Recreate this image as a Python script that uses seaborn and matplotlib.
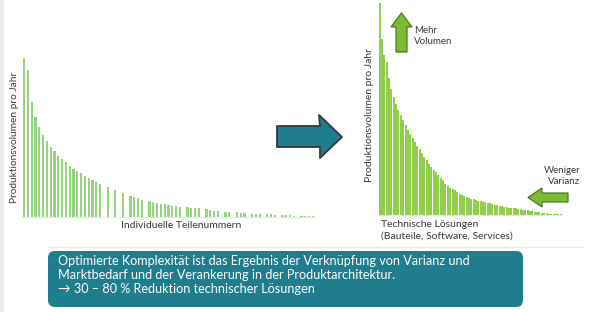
import matplotlib
matplotlib.use("Agg")
import matplotlib.pyplot as plt
from matplotlib.patches import FancyBboxPatch, Polygon
import seaborn as sns
import pandas as pd

# ---- data ----
left_heights = [159, 147, 115, 100, 90, 82, 76, 70, 66, 61, 58, 55, 51, 48, 46, 44,
                41, 39, 37, 35, 33, 0, 30, 0, 27, 0, 24, 0, 21, 20, 19, 17, 0, 16,
                15, 14, 13, 12.7, 12, 11, 10.7, 10.3, 0, 9.7, 9.3, 9, 8.7, 0, 7.7,
                6.7, 6.3, 6, 0, 5.3, 5, 0, 4.7, 4.3, 4, 0, 3.3, 3.2, 3, 0, 2.8, 2.6,
                2.4, 0, 2.1, 1.9, 1.7, 1.5, 0, 1.3, 1.2, 1.1, 1.0]
right_heights = [212, 176, 160, 153, 137, 126, 118, 111, 105, 100, 95, 90, 85, 81, 77,
                 73, 69, 66, 62, 58.5, 55, 51.5, 48.5, 45.5, 43, 40, 37.5, 35, 31.5,
                 29.5, 27.5, 26, 25, 23, 21.5, 20.5, 19.5, 18.3, 17.5, 16.5, 16, 15,
                 14.5, 14, 13.2, 12.7, 12.2, 11.7, 11, 10.5, 9.8, 9.2, 8.8, 8.3, 7.9,
                 7.5, 7.2, 6.9, 6.6, 6.3, 5.8, 5.4, 5, 4.6, 4.2, 3.8, 3.4, 3, 2.7, 2.4,
                 2.1, 1.8, 1.5, 1.3, 1.1, 0.9, 0.8, 0.7]
y_label = "Produktionsvolumen pro Jahr"
left_xlabel = "Individuelle Teilenummern"
right_xlabel = "Technische Lösungen\n(Bauteile, Software, Services)"
box_text = ("Optimierte Komplexität ist das Ergebnis der Verknüpfung von Varianz und\n"
            "Marktbedarf und der Verankerung in der Produktarchitektur.\n"
            "\u2192 30 \u2013 80 % Reduktion technischer Lösungen")

W, H = 590, 312
sns.set_theme(style="white")
plt.rcParams['font.family'] = ['Lato', 'DejaVu Sans']

fig = plt.figure(figsize=(W / 100, H / 100), dpi=100)
fig.patch.set_facecolor("white")


def px_axes(x0, y0, x1, y1, **kw):
    return fig.add_axes([x0 / W, 1 - y1 / H, (x1 - x0) / W, (y1 - y0) / H], **kw)


# ---- left chart ----
axL = px_axes(22.2, 0, 314.8, 217)
dfL = pd.DataFrame({"i": range(len(left_heights)), "h": left_heights})
sns.barplot(data=dfL, x="i", y="h", ax=axL, color="#93D67F", width=0.55,
            saturation=1, linewidth=0)
axL.set_xlim(-0.5, len(left_heights) - 0.5)
axL.set_ylim(0, 217)
axL.set_xticks([]); axL.set_yticks([])
axL.set_xlabel(""); axL.set_ylabel("")
for s in ["top", "right", "left"]:
    axL.spines[s].set_visible(False)
axL.spines["bottom"].set_color("#e6e6e6")
axL.spines["bottom"].set_linewidth(0.8)
axL.patch.set_alpha(0)

# ---- right chart ----
axR = px_axes(378.5, 0, 561.8, 215)
dfR = pd.DataFrame({"i": range(len(right_heights)), "h": right_heights})
sns.barplot(data=dfR, x="i", y="h", ax=axR, color="#93CD4C", width=0.84,
            saturation=1, linewidth=0)
axR.set_xlim(-0.5, len(right_heights) - 0.5)
axR.set_ylim(0, 215)
axR.set_xticks([]); axR.set_yticks([])
axR.set_xlabel(""); axR.set_ylabel("")
for s in ["top", "right", "left"]:
    axR.spines[s].set_visible(False)
axR.spines["bottom"].set_color("#e6e6e6")
axR.spines["bottom"].set_linewidth(0.8)
axR.patch.set_alpha(0)

# ---- overlay axes in pixel coordinates ----
ov = fig.add_axes([0, 0, 1, 1])
ov.set_xlim(0, W); ov.set_ylim(H, 0)
ov.axis("off")
ov.patch.set_alpha(0)

# left edge grey strip
ov.add_patch(plt.Rectangle((0, 0), 4, H, color="#ececec", lw=0))

txt_col = "#3a3a3a"
ov.text(15, 137, y_label, rotation=90, ha="center", va="center", fontsize=7.3, color=txt_col)
ov.text(181, 226, left_xlabel, ha="center", va="center", fontsize=7.5, color=txt_col)
ov.text(369, 115, y_label, rotation=90, ha="center", va="center", fontsize=7.5, color=txt_col)
ov.text(381, 230, right_xlabel, ha="left", va="center", fontsize=7.5, color=txt_col,
        linespacing=1.35)

# teal arrow in the middle
teal_pts = [(277, 126), (320, 126), (319, 115), (342, 137), (320, 158), (320, 147), (277, 147)]
ov.add_patch(Polygon(teal_pts, closed=True, facecolor="#1F7C8C", edgecolor="#2f3b3d", lw=1.3,
                     joinstyle="round"))

# green up arrow "Mehr Volumen"
up_pts = [(396, 52), (396, 27), (391, 27), (401.5, 13), (412, 27), (407, 27), (407, 52)]
ov.add_patch(Polygon(up_pts, closed=True, facecolor="#7DBB35", edgecolor="#4a7a1e", lw=0.9))
ov.text(414, 36, "Mehr\nVolumen", ha="left", va="center", fontsize=7.0, color=txt_col,
        linespacing=1.3)

# green left arrow "Weniger Varianz"
left_pts = [(568, 193), (542, 193), (542, 188), (528, 197.5), (542, 207), (542, 202), (568, 202)]
ov.add_patch(Polygon(left_pts, closed=True, facecolor="#7DBB35", edgecolor="#4a7a1e", lw=0.9))
ov.text(580, 176, "Weniger\nVarianz", ha="right", va="center", fontsize=7.0, color=txt_col,
        linespacing=1.3)

# faint separator line above the box
ov.plot([48, 584], [247, 247], color="#e4ecef", lw=1.0)

# bottom teal box
box = FancyBboxPatch((48, 251), 475, 56, boxstyle="round,pad=0,rounding_size=7",
                     facecolor="#1F7D8E", edgecolor="none")
ov.add_patch(box)
ov.text(58, 275, box_text, ha="left", va="center", fontsize=9.1, color="white",
        linespacing=1.18)

fig.savefig("out.png", dpi=100, facecolor="white")
